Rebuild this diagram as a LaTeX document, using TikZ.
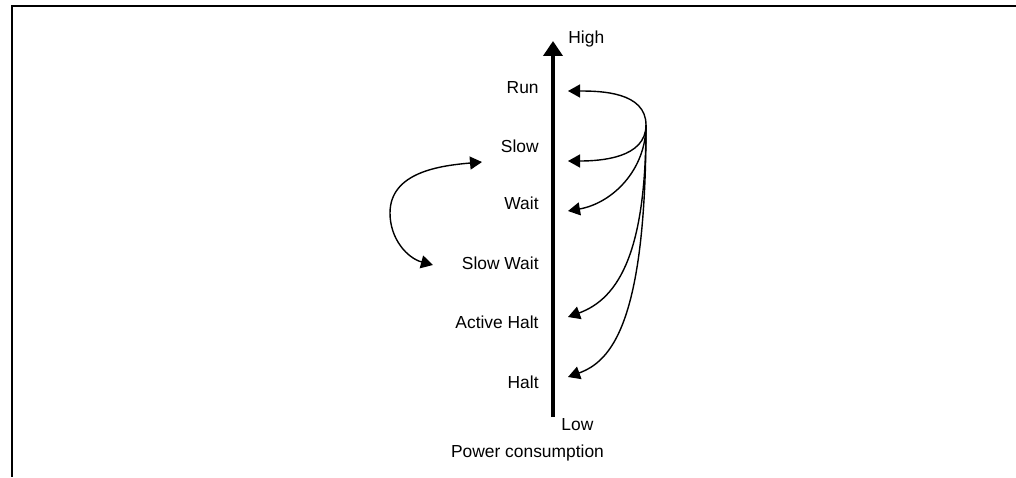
\documentclass[tikz,border=0pt]{standalone}
\usepackage{fontspec}
\setmainfont{Liberation Sans}
\usetikzlibrary{arrows.meta}
\begin{document}
\begin{tikzpicture}[x=0.5pt,y=0.5pt,
	lbl/.style={anchor=base east,inner sep=0pt},
	trans/.style={line width=0.7pt,-{Triangle[length=6pt,width=6.5pt]}}]
\fontsize{8.7}{10}\selectfont
\useasboundingbox (0,0) rectangle (1016,477);
\draw[line width=1.15pt] (1016,471) -- (12,471) -- (12,0);
% power axis
\coordinate (low) at (553,60);
\coordinate (high) at (553,436);
\draw[line width=2pt,-{Triangle[length=7.5pt,width=9.5pt]}] (low) -- (high);
\node[anchor=base west,inner sep=0pt] (hightxt) at (568,433) {High};
\node[anchor=base west,inner sep=0pt] (lowtxt) at (561,47) {Low};
\node[anchor=base,inner sep=0pt] (axistxt) at (527.5,20) {Power consumption};
% modes
\foreach \n/\t/\y in {run/Run/383,slow/Slow/324,wait/Wait/267,swait/Slow Wait/207,ahalt/Active Halt/149,halt/Halt/89}{
	\node[lbl] (\n) at (539,\y) {\t};}
% transitions from run
\coordinate (src) at (646,352);
\foreach \n/\y/\o/\i/\a/\b in {run/386/90/0/33/33,slow/316/-90/0/33/33,wait/266/-90/10/45/45,ahalt/160/-90/20/125/55,halt/100/-90/20/200/45}{
	\coordinate (\n-in) at (568,\y);
	\draw[trans] (src) .. controls +(\o:\a) and +(\i:\b) .. (\n-in);}
% slow <-> slow wait
\coordinate (lslow) at (482,315);
\coordinate (lturn) at (390,264);
\coordinate (lswait) at (433,212);
\draw[trans,{Triangle[length=6pt,width=6.5pt]}-{Triangle[length=6pt,width=6.5pt]}] (lslow) to[out=185,in=90] (lturn) to[out=-90,in=165] (lswait);
\end{tikzpicture}
\end{document}
